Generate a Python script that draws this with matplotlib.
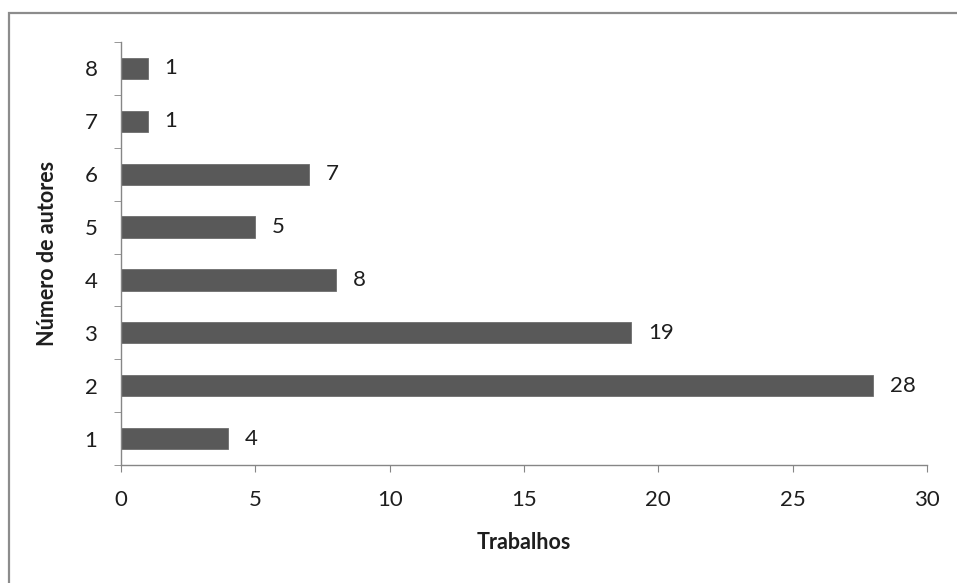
import matplotlib
matplotlib.use("Agg")
import matplotlib.pyplot as plt
from matplotlib.patches import Rectangle

plt.rcParams['font.family'] = ['Lato', 'DejaVu Sans']

# numero de autores por trabalho
autores = [1, 2, 3, 4, 5, 6, 7, 8]
trabalhos = [4, 28, 19, 8, 5, 7, 1, 1]
xticks = [0, 5, 10, 15, 20, 25, 30]

W, H = 957, 583
fig = plt.figure(figsize=(W / 100, H / 100), dpi=100)
ax = fig.add_axes([121 / W, 1 - 465 / H, (927 - 121) / W, (465 - 42) / H])

axis_color = "#868686"
text_color = "#1e1e1e"
ax.barh(autores, trabalhos, height=0.4, color="#595959", edgecolor="#6e6e6e", linewidth=0.6)

for y, v in zip(autores, trabalhos):
    ax.annotate(str(v), (v, y), xytext=(12, 0), textcoords="offset points",
                va="center", ha="left", fontsize=16, color=text_color)

ax.set_xlim(0, 30)
ax.set_ylim(0.5, 8.5)
ax.set_xticks(xticks)
ax.set_yticks(autores)
ax.set_yticks([a + 0.5 for a in [0] + autores], minor=True)

for s in ["top", "right"]:
    ax.spines[s].set_visible(False)
for s in ["left", "bottom"]:
    ax.spines[s].set_color(axis_color)
    ax.spines[s].set_linewidth(1.0)

ax.tick_params(axis="y", which="major", length=0, pad=17, labelsize=16, labelcolor=text_color)
ax.tick_params(axis="y", which="minor", length=5, color=axis_color, direction="out")
ax.tick_params(axis="x", length=5, color=axis_color, direction="out", pad=13,
               labelsize=16, labelcolor=text_color)

ax.set_xlabel("Trabalhos", fontsize=15.5, fontweight="bold", labelpad=16, color=text_color)
ax.set_ylabel("Número de autores", fontsize=15.5, fontweight="bold", labelpad=19, color=text_color)

# moldura do grafico
fig.patches.append(Rectangle((9 / W, -0.1), 1.2, 1.1 - 13 / H, transform=fig.transFigure,
                             fill=False, edgecolor="#8c8c8c", linewidth=1.6, figure=fig))

fig.savefig("out.png", dpi=100)
